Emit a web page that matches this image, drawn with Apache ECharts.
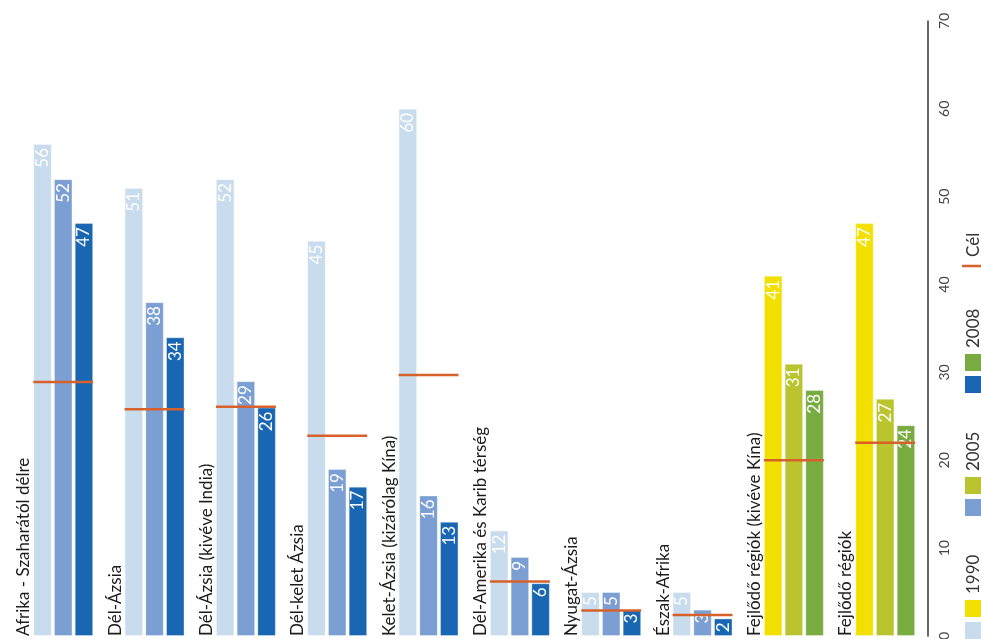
<!DOCTYPE html>
<html>
<head>
<meta charset="utf-8">
<script src="https://cdn.jsdelivr.net/npm/echarts@6/dist/echarts.min.js"></script>
<style>
  html, body { margin: 0; padding: 0; background: #fff; }
  #chart { width: 981px; height: 639px; }
</style>
</head>
<body>
<div id="chart"></div>
<script>
// Regions, in drawing order (left to right)
const regions = [
  'Afrika - Szaharától délre',
  'Dél-Ázsia',
  'Dél-Ázsia (kivéve India)',
  'Dél-kelet Ázsia',
  'Kelet-Ázsia (kizárólag Kína)',
  'Dél-Amerika és Karib térség',
  'Nyugat-Ázsia',
  'Észak-Afrika',
  'Fejlődő régiók (kivéve Kína)',
  'Fejlődő régiók'
];
// Region kind: 'r' = regional figure, 'd' = developing-world aggregate
const regionKind = ['r', 'r', 'r', 'r', 'r', 'r', 'r', 'r', 'd', 'd'];

const years = ['1990', '2005', '2008'];
const values1990 = [56, 51, 52, 45, 60, 12, 5, 5, 41, 47];
const values2005 = [52, 38, 29, 19, 16, 9, 5, 3, 31, 27];
const values2008 = [47, 34, 26, 17, 13, 6, 3, 2, 28, 24];
// Target level ("Cél") for each region
const targets = [28.9, 25.8, 26.1, 22.8, 29.7, 6.2, 2.9, 2.4, 20.0, 22.0];

const axisTicks = [0, 10, 20, 30, 40, 50, 60, 70];
const legendLabels = ['1990', '2005', '2008', 'Cél'];

// Styling
const FONT = 'Lato, "Noto Sans", sans-serif';
const shadesRegional = ['#c8dcee', '#7b9fd3', '#1967b2'];
const shadesDeveloping = ['#f2e100', '#b9c42e', '#78ac41'];
const targetColor = '#d6612b';
const BAR_W = 18.5;
const BAR_GAP = 0.12;
const SLOT = BAR_W * (1 + BAR_GAP);

const chart = echarts.init(document.getElementById('chart'), null, { renderer: 'canvas' });

function yearSeries(yearIdx, data) {
  return {
    name: years[yearIdx],
    type: 'bar',
    data: data,
    barWidth: BAR_W,
    barGap: (BAR_GAP * 100) + '%',
    itemStyle: {
      color: (p) => (regionKind[p.dataIndex] === 'd' ? shadesDeveloping : shadesRegional)[yearIdx],
      borderColor: 'rgba(255,255,255,0.35)',
      borderWidth: 1
    },
    label: {
      show: true,
      position: 'insideTop',
      rotate: 90,
      align: 'right',
      verticalAlign: 'middle',
      distance: 4,
      color: '#ffffff',
      fontFamily: FONT,
      fontSize: 17
    },
    silent: true,
    z: 2
  };
}

const option = {
  animation: false,
  backgroundColor: '#ffffff',
  grid: { left: 7.2, right: 60.5, top: 21, bottom: 3, containLabel: false, outerBoundsMode: 'none' },
  xAxis: {
    type: 'category',
    data: regions,
    axisLine: { show: false },
    axisTick: { show: false },
    axisLabel: { show: false },
    splitLine: { show: false }
  },
  yAxis: {
    type: 'value',
    position: 'right',
    offset: 7.5,
    min: axisTicks[0],
    max: axisTicks[axisTicks.length - 1],
    interval: axisTicks[1] - axisTicks[0],
    axisLine: { show: true, lineStyle: { color: '#333333', width: 1.5 } },
    axisTick: { show: false },
    splitLine: { show: false },
    axisLabel: {
      rotate: 90,
      margin: 9,
      color: '#444444',
      fontFamily: FONT,
      fontSize: 14
    }
  },
  series: [
    // Leading slot in each group carries the region name
    {
      name: 'region',
      type: 'bar',
      data: regions.map(() => 0),
      barWidth: BAR_W,
      barGap: (BAR_GAP * 100) + '%',
      itemStyle: { color: 'rgba(0,0,0,0)' },
      label: {
        show: true,
        position: 'insideBottom',
        rotate: 90,
        align: 'left',
        verticalAlign: 'middle',
        distance: 0,
        offset: [0, 2],
        formatter: (p) => p.name,
        color: '#1c1c1c',
        fontFamily: FONT,
        fontSize: 17
      },
      silent: true
    },
    yearSeries(0, values1990),
    yearSeries(1, values2005),
    yearSeries(2, values2008),
    {
      name: 'Cél',
      type: 'custom',
      data: targets.map((t, i) => [i, t]),
      z: 5,
      silent: true,
      renderItem: (params, api) => {
        const pt = api.coord([api.value(0), api.value(1)]);
        const cx = pt[0];
        const x1 = cx - 0.5 * SLOT - BAR_W / 2;
        const x2 = cx + 1.5 * SLOT + BAR_W / 2;
        return {
          type: 'line',
          shape: { x1: x1, y1: pt[1], x2: x2, y2: pt[1] },
          style: { stroke: targetColor, lineWidth: 2.5 }
        };
      }
    }
  ],
  graphic: []
};

// Legend, drawn rotated to follow the chart orientation
(function buildLegend() {
  const els = [];
  const swX = 965, swW = 17, swH = 17;
  const pitch = 123;
  for (let k = 0; k < 3; k++) {
    const base = 622 - k * pitch; // lower swatch top
    els.push({ type: 'rect', shape: { x: swX, y: base, width: swW, height: swH },
               style: { fill: shadesRegional[k] }, silent: true });
    els.push({ type: 'rect', shape: { x: swX, y: base - 22, width: swW, height: swH },
               style: { fill: shadesDeveloping[k] }, silent: true });
    els.push({ type: 'text', x: 974, y: base - 28, rotation: Math.PI / 2,
               style: { text: legendLabels[k], fill: '#333333', font: '17px ' + FONT,
                        textAlign: 'left', textVerticalAlign: 'middle' }, silent: true });
  }
  els.push({ type: 'line', shape: { x1: 962, y1: 266, x2: 981, y2: 266 },
             style: { stroke: targetColor, lineWidth: 2.5 }, silent: true });
  els.push({ type: 'text', x: 974, y: 257, rotation: Math.PI / 2,
             style: { text: legendLabels[3], fill: '#333333', font: '17px ' + FONT,
                      textAlign: 'left', textVerticalAlign: 'middle' }, silent: true });
  option.graphic = els;
})();

chart.setOption(option);
</script>
</body>
</html>
